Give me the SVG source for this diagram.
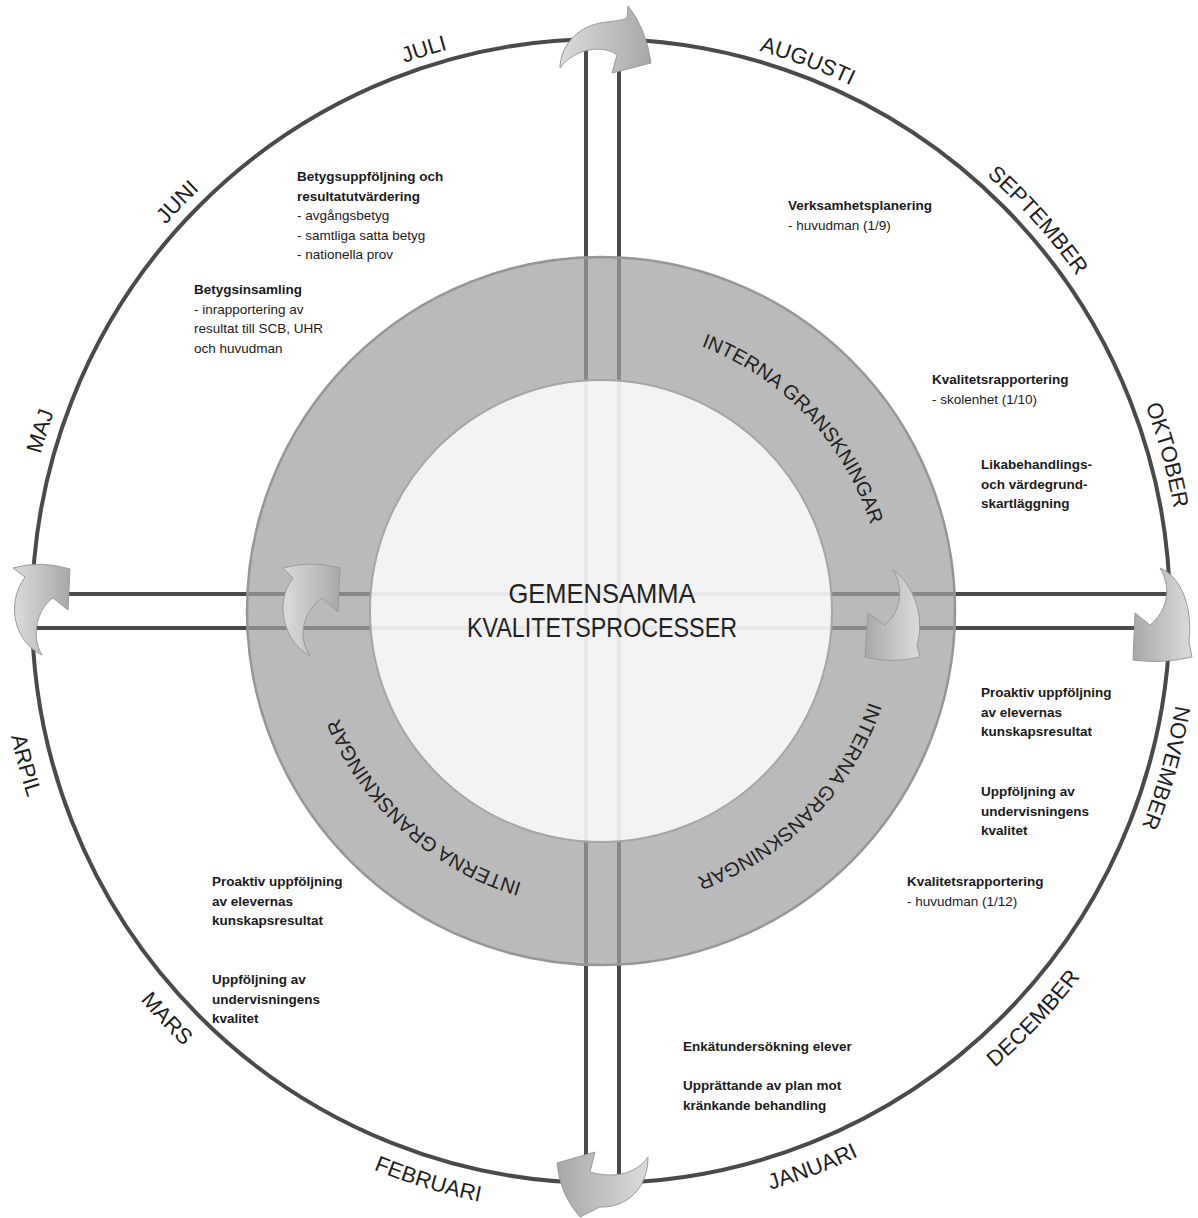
<svg xmlns="http://www.w3.org/2000/svg" width="1198" height="1218" viewBox="0 0 1198 1218">
<style>
.spoke{stroke:#4a4a48;stroke-width:4;fill:none}
.month{font-family:"Liberation Sans",Arial,sans-serif;font-size:22px;fill:#1e1e1e}
.ringtxt{font-family:"Liberation Sans",Arial,sans-serif;font-size:20px;fill:#222}
.ctr{font-family:"Liberation Sans",Arial,sans-serif;font-size:28px;fill:#222}
.b{font-family:"Liberation Sans",Arial,sans-serif;font-size:13.5px;font-weight:bold;fill:#1a1a1a}
.r{font-family:"Liberation Sans",Arial,sans-serif;font-size:13.5px;fill:#1a1a1a}
.arw{stroke:#9a9a9a;stroke-width:1}
</style>
<defs>
<linearGradient id="gA" x1="0" y1="0" x2="1" y2="0"><stop offset="0" stop-color="#dcdcdc"/><stop offset="1" stop-color="#a8a8a8"/></linearGradient>
<linearGradient id="gB" x1="0" y1="0" x2="1" y2="0"><stop offset="0" stop-color="#a8a8a8"/><stop offset="1" stop-color="#dcdcdc"/></linearGradient>
<path id="cwMonth" d="M601,1193 A582,582 0 1 1 601,29 A582,582 0 1 1 601,1193"/>
<path id="ccwMonth" d="M601,8 A603,603 0 1 0 601,1214 A603,603 0 1 0 601,8"/>
<path id="cwRing" d="M601,894 A283,283 0 1 1 601,328 A283,283 0 1 1 601,894"/>
</defs>

<g id="connectors">
<line class="spoke" x1="586" y1="39" x2="586" y2="1183"/>
<line class="spoke" x1="619" y1="39" x2="619" y2="1183"/>
<line class="spoke" x1="32" y1="594" x2="1170" y2="594"/>
<line class="spoke" x1="32" y1="628" x2="1170" y2="628"/>
</g>

<g id="outer-circle">
<ellipse cx="601" cy="611" rx="569" ry="572" fill="none" stroke="#4a4a48" stroke-width="4"/>
</g>

<g id="ring">
<path d="M601,257 A354,354 0 1 1 601,965 A354,354 0 1 1 601,257 Z M601,380 A231,231 0 1 0 601,842 A231,231 0 1 0 601,380 Z" fill="#a0a0a0" fill-opacity="0.72" fill-rule="evenodd"/>
<circle cx="601" cy="611" r="354" fill="none" stroke="#969696" stroke-width="2.5"/>
</g>

<g id="center">
<circle cx="601" cy="611" r="231" fill="#f2f2f2" fill-opacity="0.94" stroke="#a5a5a5" stroke-width="2"/>
<text class="ctr" x="602" y="603" text-anchor="middle" textLength="187" lengthAdjust="spacingAndGlyphs">GEMENSAMMA</text>
<text class="ctr" x="602" y="637" text-anchor="middle" textLength="270" lengthAdjust="spacingAndGlyphs">KVALITETSPROCESSER</text>
</g>

<g id="ring-labels">
<text class="ringtxt" text-anchor="middle"><textPath href="#cwRing" startOffset="62.92%">INTERNA GRANSKNINGAR</textPath></text>
<text class="ringtxt" text-anchor="middle"><textPath href="#cwRing" startOffset="87.36%">INTERNA GRANSKNINGAR</textPath></text>
<text class="ringtxt" text-anchor="middle"><textPath href="#cwRing" startOffset="11.67%">INTERNA GRANSKNINGAR</textPath></text>
</g>

<g id="months">
<text class="month" text-anchor="middle"><textPath href="#cwMonth" startOffset="29.94%">MAJ</textPath></text>
<text class="month" text-anchor="middle"><textPath href="#cwMonth" startOffset="37.22%">JUNI</textPath></text>
<text class="month" text-anchor="middle"><textPath href="#cwMonth" startOffset="45.14%">JULI</textPath></text>
<text class="month" text-anchor="middle"><textPath href="#cwMonth" startOffset="55.72%">AUGUSTI</textPath></text>
<text class="month" text-anchor="middle"><textPath href="#cwMonth" startOffset="63.39%">SEPTEMBER</textPath></text>
<text class="month" text-anchor="middle"><textPath href="#cwMonth" startOffset="70.72%">OKTOBER</textPath></text>
<text class="month" text-anchor="middle"><textPath href="#cwMonth" startOffset="79.31%">NOVEMBER</textPath></text>
<text class="month" text-anchor="middle"><textPath href="#ccwMonth" startOffset="62.97%">DECEMBER</textPath></text>
<text class="month" text-anchor="middle"><textPath href="#ccwMonth" startOffset="55.78%">JANUARI</textPath></text>
<text class="month" text-anchor="middle"><textPath href="#ccwMonth" startOffset="45.31%">FEBRUARI</textPath></text>
<text class="month" text-anchor="middle"><textPath href="#ccwMonth" startOffset="37.0%">MARS</textPath></text>
<text class="month" text-anchor="middle"><textPath href="#ccwMonth" startOffset="29.17%">ARPIL</textPath></text>
</g>

<g id="betygsuppfoljning">
<text class="b" x="297" y="181">Betygsuppföljning och</text>
<text class="b" x="297" y="200.5">resultatutvärdering</text>
<text class="r" x="297" y="220">- avgångsbetyg</text>
<text class="r" x="297" y="239.5">- samtliga satta betyg</text>
<text class="r" x="297" y="259">- nationella prov</text>
</g>
<g id="betygsinsamling">
<text class="b" x="194" y="294">Betygsinsamling</text>
<text class="r" x="194" y="313.5">- inrapportering av</text>
<text class="r" x="194" y="333">resultat till SCB, UHR</text>
<text class="r" x="194" y="352.5">och huvudman</text>
</g>
<g id="verksamhetsplanering">
<text class="b" x="788" y="210">Verksamhetsplanering</text>
<text class="r" x="788" y="229.5">- huvudman (1/9)</text>
</g>
<g id="kvalitet-skolenhet">
<text class="b" x="932" y="384">Kvalitetsrapportering</text>
<text class="r" x="932" y="403.5">- skolenhet (1/10)</text>
</g>
<g id="likabehandling">
<text class="b" x="981" y="469">Likabehandlings-</text>
<text class="b" x="981" y="488.5">och värdegrund-</text>
<text class="b" x="981" y="508">skartläggning</text>
</g>
<g id="proaktiv-host">
<text class="b" x="981" y="697">Proaktiv uppföljning</text>
<text class="b" x="981" y="716.5">av elevernas</text>
<text class="b" x="981" y="736">kunskapsresultat</text>
</g>
<g id="undervisning-host">
<text class="b" x="981" y="796">Uppföljning av</text>
<text class="b" x="981" y="815.5">undervisningens</text>
<text class="b" x="981" y="835">kvalitet</text>
</g>
<g id="kvalitet-huvudman">
<text class="b" x="907" y="886">Kvalitetsrapportering</text>
<text class="r" x="907" y="905.5">- huvudman (1/12)</text>
</g>
<g id="proaktiv-var">
<text class="b" x="212" y="886">Proaktiv uppföljning</text>
<text class="b" x="212" y="905.5">av elevernas</text>
<text class="b" x="212" y="925">kunskapsresultat</text>
</g>
<g id="undervisning-var">
<text class="b" x="212" y="984">Uppföljning av</text>
<text class="b" x="212" y="1003.5">undervisningens</text>
<text class="b" x="212" y="1023">kvalitet</text>
</g>
<g id="enkat">
<text class="b" x="683" y="1051">Enkätundersökning elever</text>
<text class="b" x="683" y="1090">Upprättande av plan mot</text>
<text class="b" x="683" y="1109.5">kränkande behandling</text>
</g>

<g id="arrows">
<path id="arrow-top" class="arw" fill="url(#gA)" d="M560,68 C560,48 575,28 600,23 C612,21 620,21 627,18 L628,6 Q646,28 651,63 L612,73 L617,55 C605,45 575,47 560,68 Z"/>
<path id="arrow-right" class="arw" fill="url(#gB)" d="M1160,568 C1180,576 1193,605 1189,642 L1192,657 Q1162,664 1133,660 L1135,613 L1150,625 C1166,612 1173,590 1160,568 Z"/>
<path id="arrow-bottom" class="arw" fill="url(#gB)" d="M648,1157 C648,1190 625,1208 600,1207 L580,1217 Q560,1195 557,1163 L595,1152 L590,1172 C610,1178 635,1176 648,1157 Z"/>
<path id="arrow-left" class="arw" fill="url(#gA)" d="M42,655 C15,642 5,605 25,577 L13,568 Q40,560 70,569 L68,610 L53,598 C38,608 30,635 42,655 Z"/>
<path id="arrow-inner-left" class="arw" fill="url(#gA)" d="M310,656 C287,645 272,605 293,578 L283,568 Q312,560 340,568 L338,612 L322,598 C305,610 296,635 310,656 Z"/>
<path id="arrow-inner-right" class="arw" fill="url(#gB)" d="M893,570 C915,585 925,620 917,645 L920,657 Q892,664 865,657 L868,613 L885,625 C900,612 905,590 893,570 Z"/>
</g>
</svg>
